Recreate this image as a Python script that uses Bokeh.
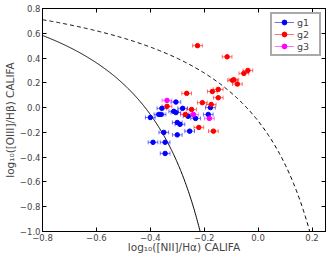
import numpy as np
from bokeh.plotting import figure
from bokeh.models import (ColumnDataSource, Whisker, TeeHead, LinearAxis, FixedTicker,
                          CustomJSTickFormatter, Legend, LegendItem)
from bokeh.embed import file_html
from bokeh.resources import INLINE

# ---- data ----
g1_x = [-0.40, -0.368, -0.36, -0.357, -0.305, -0.28, -0.313, -0.305, -0.26, -0.232,
        -0.185, -0.177, -0.30, -0.29, -0.254, -0.35, -0.30, -0.39, -0.345, -0.345]
g1_y = [-0.08, -0.055, -0.055, -0.006, 0.045, -0.006, -0.03, -0.04, -0.07, -0.087,
        -0.055, 0.0, -0.12, -0.135, -0.19, -0.20, -0.22, -0.28, -0.28, -0.37]
g2_x = [-0.225, -0.115, -0.038, -0.053, -0.095, -0.09, -0.077, -0.265, -0.17, -0.148,
        -0.148, -0.207, -0.174, -0.338, -0.247, -0.27, -0.22, -0.166]
g2_y = [0.50, 0.41, 0.30, 0.276, 0.22, 0.225, 0.19, 0.115, 0.13, 0.147,
        0.08, 0.04, 0.025, 0.01, -0.015, -0.055, -0.16, -0.19]
g3_x = [-0.338, -0.24, -0.181]
g3_y = [0.058, -0.055, -0.087]
x_err = 0.018
y_err = 0.008

# demarcation curves: y = a / (x - b) + c
kauff = (0.61, 0.05, 1.30)
kewley = (0.61, 0.47, 1.19)

x_ticks = [-0.8, -0.6, -0.4, -0.2, 0.0, 0.2]
y_ticks = [-1.0, -0.8, -0.6, -0.4, -0.2, 0.0, 0.2, 0.4, 0.6, 0.8]
x_title = "log\u2081\u2080([NII]/H\u03b1) CALIFA"
y_title = "log\u2081\u2080([OIII]/H\u03b2) CALIFA"

groups = [("g1", g1_x, g1_y, "#0000ff"),
          ("g2", g2_x, g2_y, "#ff0000"),
          ("g3", g3_x, g3_y, "#ff00ff")]

X0, X1, Y0, Y1 = -0.8, 0.25, -1.0, 0.8
p = figure(width=332, height=260, x_range=(X0, X1), y_range=(Y0, Y1),
           output_backend="svg", toolbar_location=None,
           min_border_left=39, min_border_right=7, min_border_top=8, min_border_bottom=29,
           x_axis_label=x_title, y_axis_label=y_title)
p.grid.visible = False
p.outline_line_color = "black"
p.outline_line_width = 1
p.background_fill_color = "white"
p.border_fill_color = "white"

fmt = CustomJSTickFormatter(code="return tick.toFixed(1).replace('-', '\u2212');")
for ax, ticks in ((p.xaxis[0], x_ticks), (p.yaxis[0], y_ticks)):
    ax.ticker = FixedTicker(ticks=ticks)
    ax.formatter = fmt
    ax.major_tick_in = 4
    ax.major_tick_out = 0
    ax.minor_tick_in = 0
    ax.minor_tick_out = 0
    ax.major_label_text_font = "DejaVu Sans"
    ax.major_label_text_font_size = "8.5px"
    ax.major_label_standoff = 2
    ax.axis_label_text_font = "DejaVu Sans"
    ax.axis_label_text_font_size = "10.5px"
    ax.axis_label_text_font_style = "normal"
    ax.axis_label_standoff = 1
    ax.axis_line_color = "black"
    ax.major_tick_line_color = "black"
p.xaxis[0].axis_label_standoff = -3

blank = CustomJSTickFormatter(code="return '';")
for loc, ticks in (("above", x_ticks), ("right", y_ticks)):
    a = LinearAxis(ticker=FixedTicker(ticks=ticks), formatter=blank,
                   major_tick_in=4, major_tick_out=0,
                   minor_tick_in=0, minor_tick_out=0, major_label_text_font_size="1px",
                   major_label_standoff=0, axis_line_color="black")
    p.add_layout(a, loc)

# curves
def curve(params, x_end):
    a, b, c = params
    xs = np.linspace(X0, x_end, 300)
    return xs, a / (xs - b) + c

kx, ky = curve(kauff, kauff[1] + kauff[0] / (Y0 - kauff[2]))
wx, wy = curve(kewley, kewley[1] + kewley[0] / (Y0 - kewley[2]))
p.line(kx, ky, line_color="black", line_width=1)
p.line(wx, wy, line_color="black", line_width=1, line_dash="4 3")

items = []
for name, xs, ys, col in groups:
    xs_a = np.array(xs)
    ys_a = np.array(ys)
    src = ColumnDataSource(dict(x=xs_a, y=ys_a, xl=xs_a - x_err, xu=xs_a + x_err,
                                yl=ys_a - y_err, yu=ys_a + y_err))
    wh = Whisker(source=src, base="y", lower="xl", upper="xu", dimension="width",
                 line_color=col, line_alpha=0.55, line_width=1,
                 lower_head=TeeHead(size=4, line_color=col, line_alpha=0.55),
                 upper_head=TeeHead(size=4, line_color=col, line_alpha=0.55))
    wv = Whisker(source=src, base="x", lower="yl", upper="yu", dimension="height",
                 line_color=col, line_alpha=0.55, line_width=1,
                 lower_head=TeeHead(size=4, line_color=col, line_alpha=0.55),
                 upper_head=TeeHead(size=4, line_color=col, line_alpha=0.55))
    p.add_layout(wh)
    p.add_layout(wv)
    seg = p.segment(x0=[np.nan], y0=[np.nan], x1=[np.nan], y1=[np.nan],
                    line_color=col, line_alpha=0.55, line_width=1)
    r = p.scatter("x", "y", source=src, size=4.5, marker="circle",
                  fill_color=col, line_color=col)
    items.append(LegendItem(label=name, renderers=[seg, r]))

leg = Legend(items=items, location="top_right")
leg.label_text_font = "DejaVu Sans"
leg.label_text_font_size = "9.5px"
leg.border_line_color = "#555555"
leg.border_line_width = 2
leg.padding = 2
leg.spacing = 0
leg.margin = 4
leg.glyph_width = 20
leg.glyph_height = 12
leg.label_height = 12
leg.label_standoff = 3
p.add_layout(leg)

open("out.html", "w").write(file_html(p, INLINE))
